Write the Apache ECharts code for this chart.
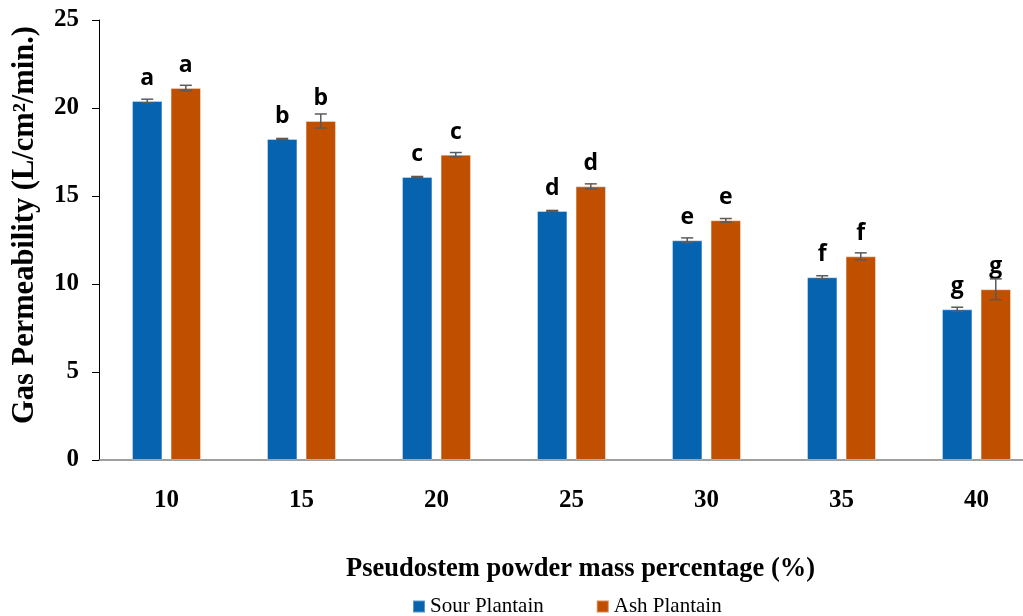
<!DOCTYPE html>
<html>
<head>
<meta charset="utf-8">
<script src="https://cdn.jsdelivr.net/npm/echarts@6/dist/echarts.min.js"></script>
<style>html,body{margin:0;padding:0;background:#fff}#c{width:1023px;height:616px}</style>
</head>
<body>
<div id="c"></div>
<script>
var categories = ['10', '15', '20', '25', '30', '35', '40'];
var sourValues = [20.40, 18.24, 16.08, 14.15, 12.48, 10.38, 8.56];
var sourErrors = [0.10, 0.03, 0.03, 0.03, 0.14, 0.09, 0.12];
var ashValues = [21.14, 19.26, 17.35, 15.55, 13.62, 11.57, 9.70];
var ashErrors = [0.15, 0.40, 0.12, 0.14, 0.10, 0.20, 0.59];
var letters = ['a', 'b', 'c', 'd', 'e', 'f', 'g'];
var seriesNames = ['Sour Plantain', 'Ash Plantain'];

var BAR_W = 0.225, BAR_GAP = 0.27;
var serif = '"Liberation Serif", "Times New Roman", serif';
var sans = '"Open Sans", "Noto Sans", sans-serif';

function errSeries(vals, errs, sign, name) {
  return {
    type: 'custom',
    name: name + ' err',
    z: 5,
    data: vals.map(function (v, i) { return [i, v, errs[i]]; }),
    renderItem: function (params, api) {
      var i = api.value(0), v = api.value(1), e = api.value(2);
      var band = api.size([1, 0])[0];
      var off = sign * band * BAR_W * (1 + BAR_GAP) / 2;
      var hi = api.coord([i, v + e]);
      var lo = api.coord([i, v - e]);
      var x = hi[0] + off;
      var cap = 6;
      var st = { stroke: '#5a5a5a', lineWidth: 1.5 };
      return {
        type: 'group',
        children: [
          { type: 'line', shape: { x1: x, y1: hi[1], x2: x, y2: lo[1] }, style: st },
          { type: 'line', shape: { x1: x - cap, y1: hi[1], x2: x + cap, y2: hi[1] }, style: st },
          { type: 'line', shape: { x1: x - cap, y1: lo[1], x2: x + cap, y2: lo[1] }, style: st }
        ]
      };
    }
  };
}

function barSeries(name, vals, color) {
  return {
    type: 'bar',
    name: name,
    barWidth: (BAR_W * 100) + '%',
    barGap: (BAR_GAP * 100) + '%',
    data: vals,
    itemStyle: { color: color, borderColor: 'rgba(255,255,255,0.35)', borderWidth: 1 },
    label: {
      show: true,
      position: 'top',
      distance: 11,
      formatter: function (p) { return letters[p.dataIndex]; },
      fontFamily: sans,
      fontWeight: 'bold',
      fontSize: 23,
      color: '#000'
    }
  };
}

var chart = echarts.init(document.getElementById('c'), null, { renderer: 'canvas' });
chart.setOption({
  animation: false,
  backgroundColor: '#fff',
  grid: { left: 99, right: -21, top: 20, bottom: 156, containLabel: false, outerBoundsMode: 'none' },
  legend: {
    data: seriesNames,
    top: 591,
    left: 407,
    itemWidth: 12,
    itemHeight: 12,
    itemGap: 52,
    icon: 'rect',
    textStyle: { fontFamily: serif, fontSize: 21, color: '#000' }
  },
  xAxis: {
    type: 'category',
    data: categories,
    name: 'Pseudostem powder mass percentage (%)',
    nameLocation: 'middle',
    nameGap: 96,
    nameTextStyle: { fontFamily: serif, fontWeight: 'bold', fontSize: 26.5, color: '#000', padding: [0, 0, 0, 18] },
    axisLine: { lineStyle: { color: '#808080', width: 1.5 } },
    axisTick: { show: false },
    axisLabel: { margin: 28, fontFamily: serif, fontWeight: 'bold', fontSize: 25, color: '#000' }
  },
  yAxis: {
    type: 'value',
    min: 0, max: 25, interval: 5,
    name: 'Gas Permeability (L/cm\u00B2/min.)',
    nameLocation: 'middle',
    nameGap: 58,
    nameTextStyle: { fontFamily: serif, fontWeight: 'bold', fontSize: 30.5, color: '#000', padding: [0, 0, 0, 30] },
    splitLine: { show: false },
    axisLine: { show: true, lineStyle: { color: '#000', width: 1 } },
    axisTick: { show: true, length: 7, lineStyle: { color: '#000' } },
    axisLabel: { margin: 20, fontFamily: serif, fontWeight: 'bold', fontSize: 25, color: '#000' }
  },
  series: [
    barSeries(seriesNames[0], sourValues, '#0563B0'),
    barSeries(seriesNames[1], ashValues, '#C05000'),
    errSeries(sourValues, sourErrors, -1, seriesNames[0]),
    errSeries(ashValues, ashErrors, 1, seriesNames[1])
  ]
});
</script>
</body>
</html>
